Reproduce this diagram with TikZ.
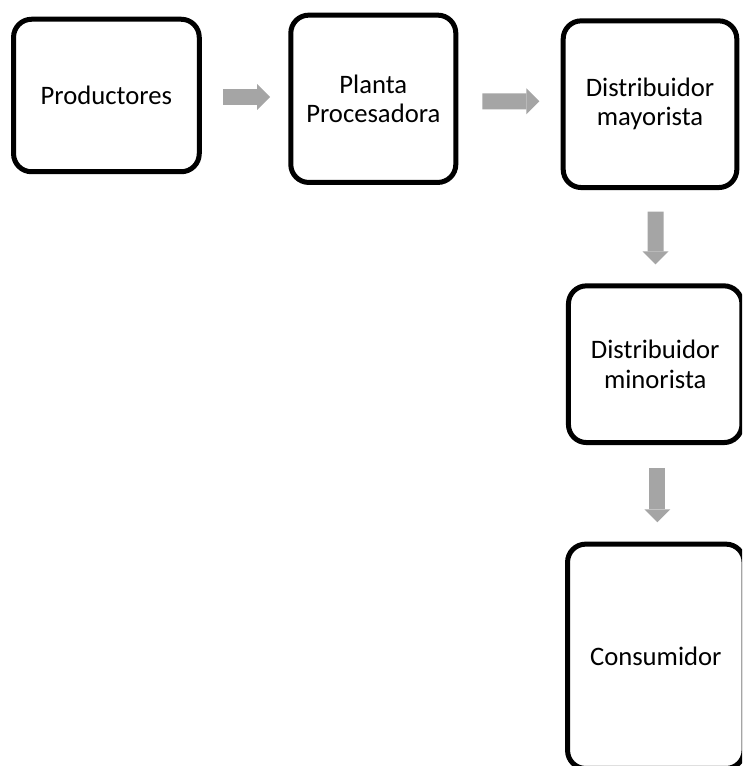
\documentclass[tikz,border=0pt]{standalone}
\usepackage{fontspec}
\setmainfont{Carlito}
\usetikzlibrary{calc,arrows.meta}
\definecolor{flowgray}{HTML}{A5A5A5}
\begin{document}
\begin{tikzpicture}[x=0.75pt,y=-0.75pt,
  stage/.style={draw=black, line width=3.75pt, rounded corners=13.5pt,
    fill=white, align=center, inner sep=0pt,
    font=\fontsize{20}{22}\selectfont},
  flow/.style={draw=flowgray, line width=12pt,
    -{Triangle[length=9.75pt,width=19.5pt,line width=0pt]}}]
\useasboundingbox (0,0) rectangle (742,766);
\begin{scope}
\clip (0,0) rectangle (742,766);
% supply chain stages
\node[stage, minimum width={185.7*0.75pt}, minimum height={152.5*0.75pt}]
  (p1) at (106.4,95.5) {Productores};
\node[stage, minimum width={165*0.75pt}, minimum height={167.3*0.75pt}]
  (p2) at (373.3,98.8) {Planta\\Procesadora};
\node[stage, minimum width={173.6*0.75pt}, minimum height={166.7*0.75pt}]
  (p3) at (650,104.2) {Distribuidor\\mayorista};
\node[stage, minimum width={173.5*0.75pt}, minimum height={156.7*0.75pt}]
  (p4) at (655.2,364.2) {Distribuidor\\minorista};
\node[stage, minimum width={176.5*0.75pt}, minimum height={224.3*0.75pt}]
  (p5) at (655.8,656.3) {Consumidor};
% block arrows between stages
\draw[flow] ($(p1.east)+(21,1.5)$) -- ($(p2.west)+(-18.3,-1.8)$);
\draw[flow] ($(p2.east)+(24,2.5)$) -- ($(p3.west)+(-21.4,-2.9)$);
\draw[flow] ($(p3.south)+(5.5,21.65)$) -- ($(p4.north)+(0.3,-19)$);
\draw[flow] ($(p4.south)+(2.1,22.7)$) -- ($(p5.north)+(1.5,-19.4)$);
\end{scope}
\end{tikzpicture}
\end{document}
